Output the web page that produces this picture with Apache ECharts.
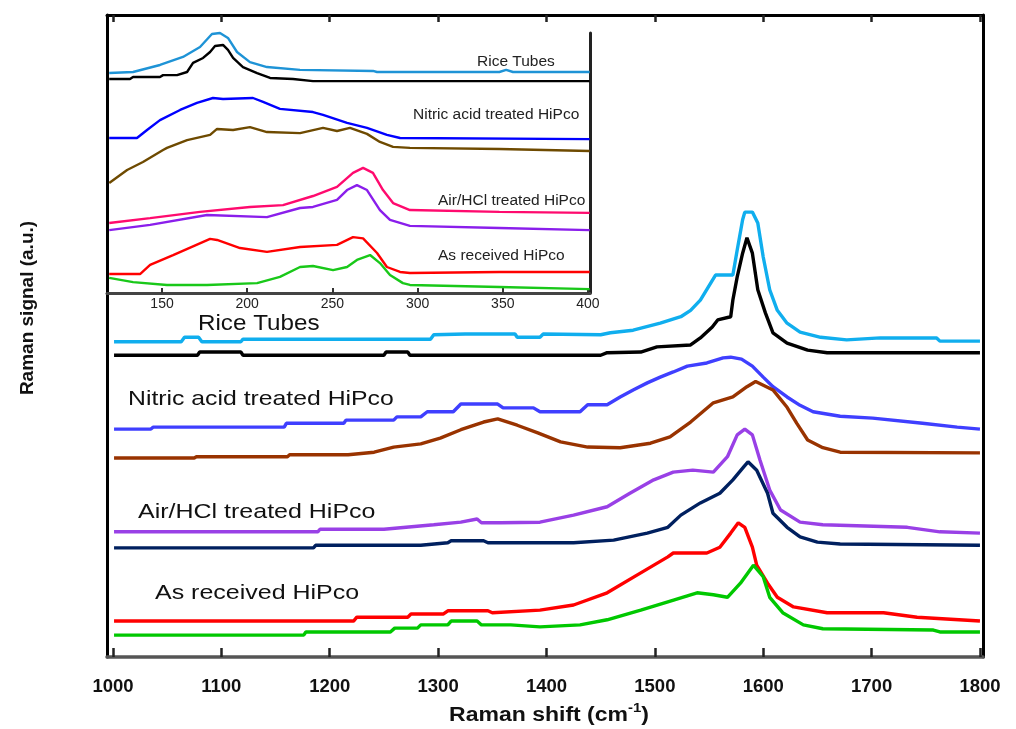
<!DOCTYPE html>
<html><head><meta charset="utf-8">
<script src="https://cdn.jsdelivr.net/npm/echarts@6/dist/echarts.min.js"></script>
<style>html,body{margin:0;padding:0;background:#fff}#c{width:1016px;height:729px}</style>
</head><body><div id="c"></div>
<script>
// ---------- tick labels ----------
const mainTicks = [1000, 1100, 1200, 1300, 1400, 1500, 1600, 1700, 1800];
const insetTicks = [150, 200, 250, 300, 350, 400];

// ---------- main spectra (Raman shift cm-1, signal a.u.) ----------
const riceTop = [[1001,49.1],[1063,49.1],[1066,49.8],[1079,49.8],[1082,49.1],[1118,49.1],[1120,49.5],[1293,49.5],[1296,50.2],[1325,50.3],[1371,50.3],[1373,49.8],[1394,49.8],[1397,50.3],[1450,50.2],[1459,50.5],[1480,50.9],[1505,52.0],[1524,53.0],[1533,54.0],[1542,55.6],[1556,59.5],[1572,59.5],[1576,63.4],[1581,68.1],[1583,69.3],[1590,69.3],[1595,67.6],[1600,62.3],[1606,57.2],[1613,54.0],[1622,52.0],[1634,50.6],[1653,49.8],[1677,49.4],[1708,49.7],[1760,49.7],[1763,49.2],[1800,49.2]];
const riceLow = [[1001,47.0],[1078,47.0],[1080,47.5],[1118,47.5],[1120,47.0],[1250,47.0],[1252,47.5],[1272,47.5],[1274,47.0],[1450,47.0],[1456,47.4],[1487,47.5],[1502,48.3],[1533,48.6],[1542,49.7],[1553,51.4],[1558,52.5],[1570,53.0],[1572,55.6],[1576,59.2],[1581,62.9],[1585,65.3],[1590,62.9],[1595,57.2],[1602,53.6],[1609,50.5],[1622,48.9],[1641,47.8],[1659,47.4],[1800,47.4]];
const nitricTop = [[1001,35.5],[1035,35.5],[1037,35.8],[1158,35.8],[1160,36.4],[1213,36.4],[1215,36.9],[1259,36.9],[1262,37.4],[1284,37.4],[1290,38.2],[1314,38.2],[1321,39.4],[1355,39.4],[1360,38.8],[1388,38.8],[1394,38.2],[1431,38.2],[1438,39.3],[1456,39.3],[1468,40.5],[1480,41.6],[1493,42.7],[1505,43.6],[1517,44.4],[1530,45.3],[1548,45.8],[1563,46.6],[1570,46.7],[1580,46.4],[1590,45.3],[1600,43.6],[1609,42.1],[1622,40.5],[1634,39.2],[1646,38.2],[1671,37.5],[1701,37.2],[1747,36.4],[1779,35.8],[1800,35.5]];
const nitricLow = [[1001,31.0],[1075,31.0],[1077,31.2],[1161,31.2],[1163,31.5],[1217,31.5],[1241,31.9],[1259,32.7],[1284,33.2],[1302,34.1],[1321,35.4],[1342,36.6],[1355,37.1],[1373,36.1],[1392,34.9],[1413,33.5],[1438,32.7],[1468,32.6],[1496,33.3],[1514,34.3],[1533,36.6],[1554,39.6],[1572,40.5],[1585,42.1],[1593,42.9],[1609,41.6],[1622,38.9],[1631,36.4],[1641,33.8],[1655,32.6],[1671,31.9],[1800,31.8]];
const airTop = [[1001,19.5],[1189,19.5],[1191,19.9],[1250,19.9],[1296,20.6],[1321,21.0],[1336,21.5],[1340,20.9],[1358,20.9],[1394,21.0],[1425,22.1],[1456,23.4],[1477,25.5],[1499,27.6],[1517,28.8],[1535,29.1],[1554,28.8],[1567,31.2],[1576,34.6],[1583,35.5],[1590,34.6],[1597,30.7],[1606,26.0],[1616,22.9],[1634,21.0],[1655,20.6],[1733,20.2],[1763,19.5],[1800,19.3]];
const airLow = [[1001,17.0],[1185,17.0],[1187,17.4],[1284,17.4],[1309,17.8],[1312,18.1],[1342,18.1],[1346,17.8],[1394,17.8],[1425,17.8],[1462,18.2],[1493,19.3],[1512,20.2],[1524,22.1],[1542,24.0],[1560,25.5],[1572,27.6],[1582,29.6],[1586,30.4],[1594,29.1],[1604,25.5],[1609,22.4],[1622,20.2],[1634,18.7],[1650,17.9],[1671,17.6],[1800,17.4]];
const asRecTop = [[1001,5.6],[1222,5.6],[1225,6.2],[1272,6.2],[1275,6.7],[1305,6.7],[1309,7.2],[1346,7.2],[1350,6.9],[1394,7.3],[1425,8.1],[1456,10.0],[1487,13.1],[1512,15.6],[1517,16.2],[1548,16.2],[1560,17.1],[1570,19.3],[1577,20.9],[1583,20.2],[1590,17.1],[1594,14.3],[1604,11.5],[1613,9.3],[1628,7.8],[1659,6.9],[1711,6.9],[1742,6.2],[1800,5.6]];
const asRecLow = [[1001,3.4],[1176,3.4],[1178,3.9],[1256,3.9],[1260,4.5],[1281,4.5],[1284,5.0],[1309,5.0],[1312,5.6],[1336,5.6],[1340,5.0],[1367,5.0],[1394,4.7],[1431,5.0],[1456,5.8],[1487,7.3],[1512,8.6],[1539,10.0],[1554,9.7],[1567,9.3],[1579,11.5],[1591,14.3],[1600,12.5],[1606,9.3],[1618,6.9],[1637,5.0],[1655,4.4],[1757,4.2],[1763,3.9],[1800,3.9]];

// ---------- inset spectra (RBM region, cm-1) ----------
const inRiceTop = [[119,84.6],[133,85],[148.8,87.7],[162.3,90.8],[172.3,94.6],[179.3,99.6],[184,100],[188.7,98.1],[194,92.7],[201.6,88.8],[211.6,86.9],[231,85.8],[273.8,85.4],[276.2,85],[348,85],[352,85.8],[356,85],[401,85]];
const inRiceLow = [[119,82.3],[131.2,82.3],[133,83.1],[148.8,83.1],[150.6,83.8],[158.8,83.8],[164.7,85],[168.2,88.5],[174.1,90.4],[178.2,92.7],[181.1,95],[185.8,95.4],[188.7,93.5],[191.7,90.4],[197.5,86.9],[205.8,84.6],[213.4,82.7],[226.9,82.3],[238.6,81.5],[401,81.5]];
const inNitricTop = [[119,59.6],[135.3,59.6],[141.2,62.7],[148.8,66.5],[160.6,70.4],[170.5,73.1],[179.9,75],[185.8,74.6],[203.4,75],[209.3,73.5],[219.2,70.8],[238.6,69.6],[244.5,68.5],[258.6,65.4],[270.3,63.5],[282,60.8],[289.7,59.6],[401,59.2]];
const inNitricLow = [[119,42.3],[129.5,47.3],[138.8,50.4],[150.6,55],[152.9,55.8],[164.7,58.8],[178.2,60.8],[182.3,63.1],[191.7,62.7],[201.6,63.8],[211.6,61.9],[231,61.5],[244.5,63.5],[252.7,62.3],[260.3,63.5],[270.3,61.2],[277.9,58.1],[285.6,56.2],[295.5,55.8],[348,55.4],[401,54.6]];
const inAirTop = [[119,26.9],[143,28.8],[172.3,31.2],[201.6,33.1],[221,33.8],[238.6,37.3],[252.7,40.8],[262.1,46.2],[268,48.1],[273.8,46.2],[279.7,39.6],[285.6,34.6],[295.5,31.9],[348,31.2],[401,30.8]];
const inAirLow = [[119,24.2],[143,26.2],[176.4,30],[211.6,29.2],[231,32.7],[238.6,33.1],[252.7,35.8],[258.6,39.6],[264.4,41.5],[270.3,39.6],[277.9,31.9],[283.8,28.1],[295.5,25.8],[348,25],[401,24.2]];
const inAsRecTop = [[119,7.3],[137.1,7.3],[143,10.8],[156.5,14.6],[178.2,20.8],[182.3,20.4],[195.8,17.3],[211.6,15.8],[231,17.7],[252.7,18.5],[262.1,21.5],[268,21],[276.2,15.4],[282,10],[289.7,8.1],[295.5,7.7],[348,8.1],[401,8.1]];
const inAsRecLow = [[119,5.8],[133,4.2],[152.9,3.1],[176.4,3.1],[205.8,3.8],[219.2,6.2],[231,10],[238.6,10.4],[250.4,8.8],[258.6,10],[264.4,12.7],[272.1,14.6],[277.9,11.5],[283.8,6.9],[291.4,3.8],[295.5,3.1],[348,2.3],[401,1.5]];

const mainSeries = [
  {name:'Rice Tubes A', data:riceTop, color:'#10AEEE'},
  {name:'Rice Tubes B', data:riceLow, color:'#000000'},
  {name:'Nitric A', data:nitricTop, color:'#3F3FFF'},
  {name:'Nitric B', data:nitricLow, color:'#993300'},
  {name:'Air A', data:airTop, color:'#9940E6'},
  {name:'Air B', data:airLow, color:'#00205F'},
  {name:'AsRec A', data:asRecTop, color:'#FF0000'},
  {name:'AsRec B', data:asRecLow, color:'#00C800'}
];
const insetSeries = [
  {data:inRiceTop, color:'#1E93D6'},
  {data:inRiceLow, color:'#000000'},
  {data:inNitricTop, color:'#0000FF'},
  {data:inNitricLow, color:'#6E4A00'},
  {data:inAirTop, color:'#FF0A6E'},
  {data:inAirLow, color:'#8A1EEB'},
  {data:inAsRecTop, color:'#FF0000'},
  {data:inAsRecLow, color:'#19C819'}
];

const FONT = "'Liberation Sans', Arial, sans-serif";
const chart = echarts.init(document.getElementById('c'), null, {renderer:'canvas'});

const series = [];
mainSeries.forEach(s => series.push({
  type:'line', name:s.name, data:s.data, xAxisIndex:0, yAxisIndex:0,
  showSymbol:false, symbol:'none', lineStyle:{color:s.color, width:3.4}, itemStyle:{color:s.color}, animation:false, z:3
}));
insetSeries.forEach(s => series.push({
  type:'line', data:s.data, xAxisIndex:2, yAxisIndex:2, clip:false,
  showSymbol:false, symbol:'none', lineStyle:{color:s.color, width:2.4}, itemStyle:{color:s.color}, animation:false, z:3
}));

function mainLabel(text, x, y, size, sx, weight){
  return {type:'text', x:x, y:y, scaleX:sx, z:10,
    style:{text:text, x:0, y:0, fill:'#111', font:(weight||'normal')+' '+size+'px '+FONT, textAlign:'left', textVerticalAlign:'middle'}};
}
function insetLabel(text, x, y){
  return {type:'text', x:x, y:y, z:10,
    style:{text:text, x:0, y:0, fill:'#222', font:'normal 15.5px '+FONT, textAlign:'left', textVerticalAlign:'middle'}};
}
const plain = v => String(v);

const option = {
  backgroundColor:'#fff',
  animation:false,
  grid:[
    {left:107, right:33, top:15, bottom:72},
    {left:107, right:426, top:33, bottom:436}
  ],
  xAxis:[
    {gridIndex:0, type:'value', min:994.5, max:1802.8, position:'bottom',
      axisLine:{show:true, onZero:false, lineStyle:{color:'#555', width:3.5}},
      axisTick:{show:true, inside:true, length:9, customValues:mainTicks, lineStyle:{color:'#222', width:2.5}},
      axisLabel:{show:true, customValues:mainTicks, formatter:plain, margin:20, color:'#111', fontFamily:FONT, fontWeight:'bold', fontSize:18.5},
      splitLine:{show:false}},
    {gridIndex:0, type:'value', min:994.5, max:1802.8, position:'top',
      axisLine:{show:true, onZero:false, lineStyle:{color:'#000', width:3}},
      axisTick:{show:true, inside:true, length:7, customValues:mainTicks, lineStyle:{color:'#222', width:2.5}},
      axisLabel:{show:false}, splitLine:{show:false}},
    {gridIndex:1, type:'value', min:117.7, max:401.2, position:'bottom',
      axisLine:{show:true, onZero:false, lineStyle:{color:'#444', width:3}},
      axisTick:{show:true, inside:true, length:5, customValues:insetTicks, lineStyle:{color:'#333', width:2}},
      axisLabel:{show:true, customValues:insetTicks, formatter:plain, margin:4, color:'#222', fontFamily:FONT, fontSize:14},
      splitLine:{show:false}}
  ],
  yAxis:[
    {gridIndex:0, type:'value', min:0, max:100, position:'left',
      axisLine:{show:true, onZero:false, lineStyle:{color:'#000', width:3}}, axisTick:{show:false}, axisLabel:{show:false}, splitLine:{show:false}},
    {gridIndex:0, type:'value', min:0, max:100, position:'right',
      axisLine:{show:true, onZero:false, lineStyle:{color:'#000', width:3}}, axisTick:{show:false}, axisLabel:{show:false}, splitLine:{show:false}},
    {gridIndex:1, type:'value', min:0, max:100, position:'left',
      axisLine:{show:false, onZero:false}, axisTick:{show:false}, axisLabel:{show:false}, splitLine:{show:false}},
    {gridIndex:1, type:'value', min:0, max:100, position:'right',
      axisLine:{show:true, onZero:false, lineStyle:{color:'#222', width:3}}, axisTick:{show:false}, axisLabel:{show:false}, splitLine:{show:false}}
  ],
  series: series,
  graphic:[
    mainLabel('Rice Tubes', 198, 324, 22, 1.1),
    mainLabel('Nitric acid treated HiPco', 128, 399, 21, 1.18),
    mainLabel('Air/HCl treated HiPco', 138, 512, 21, 1.19),
    mainLabel('As received HiPco', 155, 593, 21, 1.19),
    insetLabel('Rice Tubes', 477, 62),
    insetLabel('Nitric acid treated HiPco', 413, 115),
    insetLabel('Air/HCl treated HiPco', 438, 201),
    insetLabel('As received HiPco', 438, 256),
    {type:'text', x:549, y:715, scaleX:1.15, z:10,
      style:{text:'{a|Raman shift (cm}{s|-1}{a|)}', x:0, y:0, textAlign:'center', textVerticalAlign:'middle',
        rich:{a:{font:'bold 20px '+FONT, fill:'#111', lineHeight:26}, s:{font:'bold 13px '+FONT, fill:'#111', lineHeight:13, verticalAlign:'top'}}}},
    {type:'text', x:28, y:308, rotation:Math.PI/2, z:10,
      style:{text:'Raman signal (a.u.)', x:0, y:0, textAlign:'center', textVerticalAlign:'middle', font:'bold 19px '+FONT, fill:'#111'}}
  ]
};
chart.setOption(option);
</script>
</body></html>
